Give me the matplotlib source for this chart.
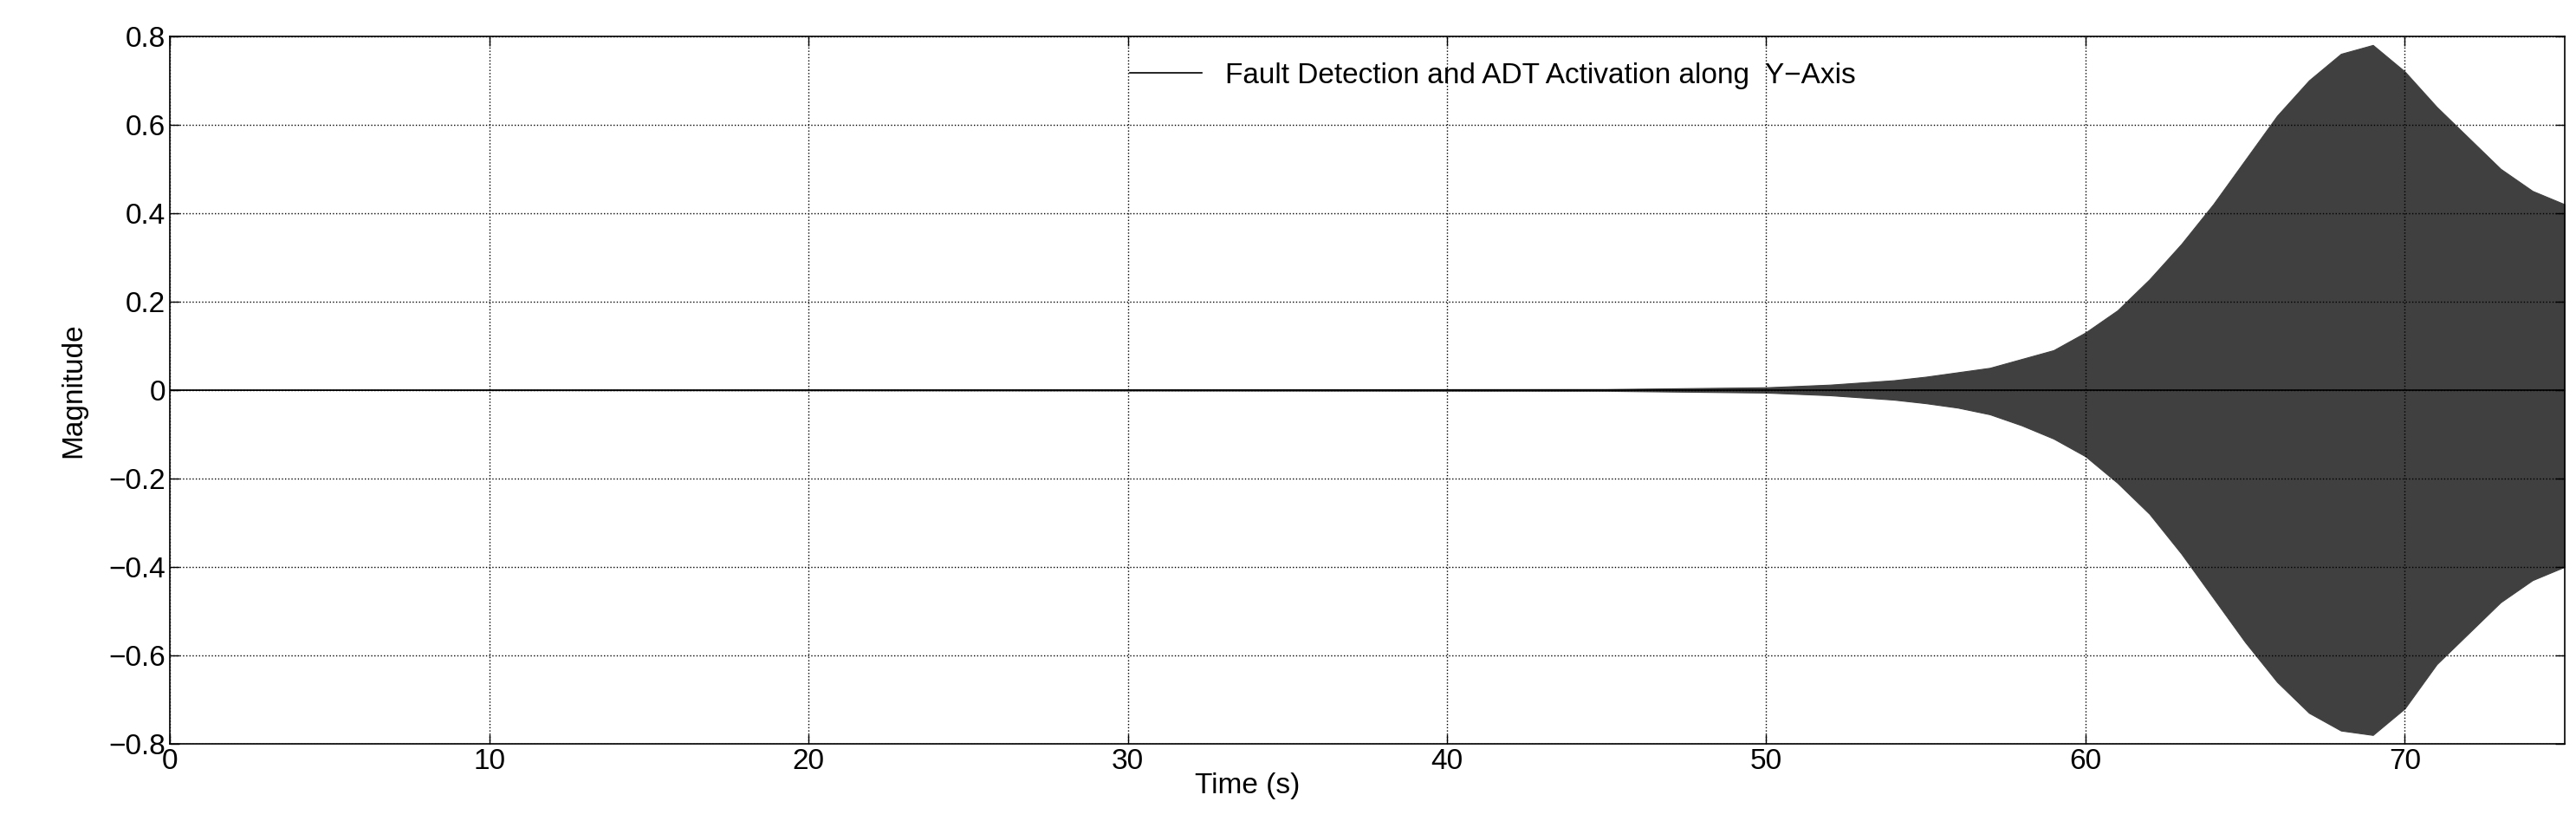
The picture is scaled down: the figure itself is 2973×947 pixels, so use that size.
import matplotlib
matplotlib.use("Agg")
import matplotlib.pyplot as plt
from matplotlib.lines import Line2D

# envelope of the oscillating response
t_env = [0, 45, 50, 52, 54, 55, 56, 57, 58, 59, 60, 61, 62, 63, 64, 65, 66, 67, 68, 69, 70, 71, 72, 73, 74, 75]
upper = [0, 0.002, 0.006, 0.012, 0.022, 0.03, 0.04, 0.05, 0.07, 0.09, 0.13, 0.18, 0.25, 0.33, 0.42, 0.52, 0.62, 0.70, 0.76, 0.78, 0.72, 0.64, 0.57, 0.50, 0.45, 0.42]
lower = [0, -0.002, -0.006, -0.012, -0.022, -0.03, -0.04, -0.055, -0.08, -0.11, -0.15, -0.21, -0.28, -0.37, -0.47, -0.57, -0.66, -0.73, -0.77, -0.78, -0.72, -0.62, -0.55, -0.48, -0.43, -0.40]
xticks = [0, 10, 20, 30, 40, 50, 60, 70]
yticks = [-0.8, -0.6, -0.4, -0.2, 0, 0.2, 0.4, 0.6, 0.8]
ytlabels = ["\u22120.8", "\u22120.6", "\u22120.4", "\u22120.2", "0", "0.2", "0.4", "0.6", "0.8"]

plt.rcParams['font.family'] = ['Liberation Sans', 'DejaVu Sans']
fig = plt.figure(figsize=(29.73, 9.47), dpi=100)
ax = fig.add_axes([0.066, 0.094, 0.9295, 0.862])
ax.fill_between(t_env, lower, upper, color='#404040', linewidth=0.8, edgecolor='#404040')
ax.plot([0, 75], [0, 0], color='black', linewidth=1.2)
ax.set_xlim(0, 75)
ax.set_ylim(-0.8, 0.8)
ax.set_xticks(xticks)
ax.set_yticks(yticks)
ax.set_yticklabels(ytlabels)
ax.tick_params(labelsize=24, direction='in', length=8, width=1)
ax.tick_params(top=True, right=True)
ax.grid(True, linestyle=':', color='black', linewidth=1)
for s in ax.spines.values():
    s.set_linewidth(1.2)
ax.set_xlabel('Time (s)', fontsize=24, labelpad=-28)
ax.xaxis.set_label_coords(0.45, -0.04)
ax.set_ylabel('Magnitude', fontsize=24, labelpad=18)
h = Line2D([], [], color='black', linewidth=1.2)
ax.legend([h], ['Fault Detection and ADT Activation along  Y\u2212Axis'], loc='upper left',
          bbox_to_anchor=(0.39, 1.0), frameon=False, fontsize=24, handlelength=2.5)
fig.savefig('out.png', dpi=100)
